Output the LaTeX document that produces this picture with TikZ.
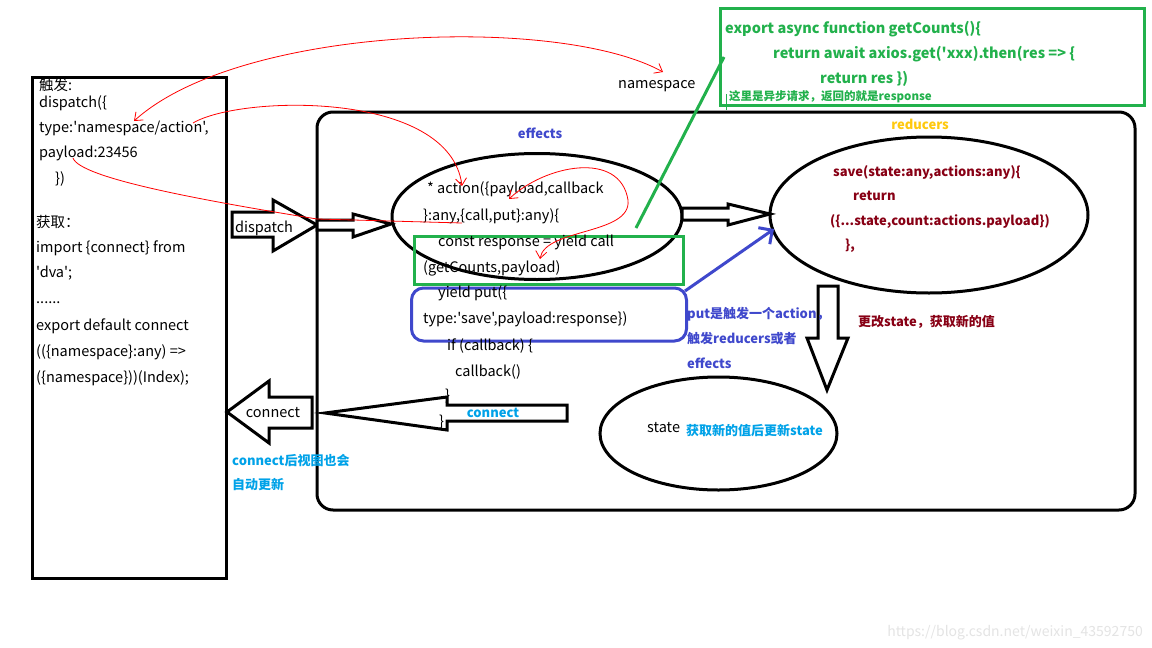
\documentclass[tikz,border=0pt]{standalone}
\usepackage{fontspec}
\setmainfont{Noto Sans CJK SC}[Ligatures=TeXOff]
\usetikzlibrary{arrows.meta,shapes.geometric}
\definecolor{pgreen}{HTML}{22B14C}
\definecolor{pblue}{HTML}{3F48CC}
\definecolor{plblue}{HTML}{00A2E8}
\definecolor{porange}{HTML}{FFC90E}
\definecolor{pdred}{HTML}{880015}
\definecolor{pred}{HTML}{FF0000}
\definecolor{wmark}{HTML}{E4E4E4}
\tikzset{
  txt/.style={anchor=base west, inner sep=0pt, font=\fontsize{14.5}{17}\selectfont},
  btxt/.style={anchor=base west, inner sep=0pt, font=\fontsize{13}{15}\selectfont\bfseries},
  frame/.style={draw=black, line width=3pt},
  blockarrow/.style={draw=black, fill=white, line width=3pt, line join=miter},
  redline/.style={draw=pred, line width=0.8pt},
  redtip/.style={-{Straight Barb[length=7pt,width=11pt,line width=0.8pt]}},
  redtips/.style={{Straight Barb[length=7pt,width=11pt,line width=0.8pt]}-{Straight Barb[length=7pt,width=11pt,line width=0.8pt]}},
}
\begin{document}
\begin{tikzpicture}[x=1pt,y=-1pt]
\useasboundingbox[fill=white] (0,0) rectangle (1152,648);

% left box
\node[frame, rectangle, minimum width=194pt, minimum height=501pt, anchor=north west, inner sep=0pt] (leftbox) at (31,75.5) {};
\node[txt] (l1) at (39,90) {触发:};
\node[txt] (l2) at (39,107) {dispatch(\{};
\node[txt] (l3) at (39,132) {type:'namespace/action',};
\node[txt] (l4) at (39,157) {payload:23456};
\node[txt] (l5) at (55,183) {\})};
\node[txt] (l6) at (36,227) {获取：};
\node[txt] (l7) at (36,252) {import \{connect\} from};
\node[txt] (l8) at (36,277) {'dva';};
\node[txt] (l9) at (36,303) {......};
\node[txt] (l10) at (36,330) {export default connect};
\node[txt] (l11) at (36,356) {((\{namespace\}:any) =>};
\node[txt] (l12) at (36,382) {(\{namespace\}))(Index);};

% big rounded frame
\draw[frame, rounded corners=16pt] (317,112) rectangle (1135,510);

% namespace label
\node[txt] (ns) at (618,88) {namespace};

% green box at top
\node[draw=pgreen, line width=3pt, rectangle, minimum width=424pt, minimum height=97pt, anchor=north west, inner sep=0pt] (gbox) at (719,6.5) {};
\node[btxt, text=pgreen, font=\fontsize{14.5}{17}\selectfont\bfseries] (g1) at (725,33) {export async function getCounts()\{};
\node[btxt, text=pgreen, font=\fontsize{14.5}{17}\selectfont\bfseries] (g2) at (773,58) {return await axios.get('xxx).then(res => \{};
\node[btxt, text=pgreen, font=\fontsize{14.5}{17}\selectfont\bfseries] (g3) at (820,83) {return res \})};
\node[btxt, text=pgreen, font=\fontsize{11.5}{13}\selectfont\bfseries] (g4) at (729,100) {这里是异步请求，返回的就是response};
\draw[pgreen, line width=1pt] (726,94) -- (726,110);

% effects ellipse
\node[draw=black, line width=3pt, ellipse, minimum width=290pt, minimum height=126pt, inner sep=0pt] (eff) at (537,216.5) {};
\node[btxt, anchor=base, text=pblue] (efflabel) at (540,138) {effects};

% green rect around call
\node[draw=pgreen, line width=3pt, rectangle, minimum width=269pt, minimum height=48pt, anchor=north west, inner sep=0pt] (grect) at (413,234.5) {};
% blue rounded rect around put
\node[draw=pblue, line width=3pt, rectangle, rounded corners=12pt, minimum width=275pt, minimum height=53pt, anchor=north west, inner sep=0pt] (brect) at (410,286.5) {};

% reducers ellipse
\node[draw=black, line width=3pt, ellipse, minimum width=318pt, minimum height=156pt, inner sep=0pt] (red) at (929,215) {};
\node[btxt, anchor=base, text=porange] (redlabel) at (920,129) {reducers};
\node[btxt, text=pdred] (r1) at (833,176) {save(state:any,actions:any)\{};
\node[btxt, text=pdred] (r2) at (853,200) {return};
\node[btxt, text=pdred] (r3) at (830,225) {(\{...state,count:actions.payload\})};
\node[btxt, text=pdred] (r4) at (845,249) {\},};

\node[btxt, text=pdred] (change) at (858,326) {更改state，获取新的值};

% state ellipse
\node[draw=black, line width=3pt, ellipse, minimum width=237pt, minimum height=113pt, inner sep=0pt] (state) at (718.5,433.5) {};
\node[txt] (s1) at (647,432) {state};
\node[btxt, text=plblue] (s2) at (686,435) {获取新的值后更新state};

% block arrows
\draw[blockarrow] (232,212) -- (273,212) -- (273,200) -- (317,225) -- (273,251) -- (273,237) -- (232,237) -- cycle;
\node[txt, anchor=base] (dlabel) at (264,232) {dispatch};
\draw[blockarrow] (317,220) -- (353,220) -- (353,214) -- (391,224) -- (353,237) -- (353,230) -- (317,230) -- cycle;
\draw[blockarrow] (682,208) -- (728,208) -- (728,204) -- (770,214) -- (728,225) -- (728,220) -- (682,220) -- cycle;
\draw[blockarrow] (818,286) -- (838,286) -- (838,338) -- (848,338) -- (827,390) -- (807,338) -- (818,338) -- cycle;
\draw[blockarrow] (567,405) -- (447,405) -- (447,397) -- (325,413) -- (447,430) -- (447,421) -- (567,421) -- cycle;
\node[btxt, anchor=base, text=plblue] (clabel) at (493,417) {connect};
\draw[blockarrow] (312,397) -- (269,397) -- (269,381) -- (227,412) -- (269,443) -- (269,428) -- (312,428) -- cycle;
\node[txt, anchor=base] (c2label) at (273,417) {connect};

% put explanation
\node[btxt, text=pblue] (p1) at (687,318) {put是触发一个action，};
\node[btxt, text=pblue] (p2) at (687,343) {触发reducers或者};
\node[btxt, text=pblue] (p3) at (687,368) {effects};

% effects code
\node[txt] (e1) at (427,193) {* action(\{payload,callback};
\node[txt] (e2) at (423,220) {\}:any,\{call,put\}:any)\{};
\node[txt] (e3) at (438,246) {const response = yield call};
\node[txt] (e4) at (423,272) {(getCounts,payload)};
\node[txt] (e5) at (438,297) {yield put(\{};
\node[txt] (e6) at (423,323) {type:'save',payload:response\})};
\node[txt] (e7) at (447,350) {if (callback) \{};
\node[txt] (e8) at (455,376) {callback()};
\node[txt] (e9) at (445,400) {\}};
\node[txt] (e10) at (439,426) {\}};

\node[btxt, text=plblue] (cv1) at (232,465) {connect后视图也会};
\node[btxt, text=plblue] (cv2) at (232,489) {自动更新};

% green connector
\coordinate (gl1) at (636,228);
\coordinate (gl2) at (724,57);
\draw[pgreen, line width=3pt] (gl1) -- (gl2);

% blue arrow
\coordinate (bl1) at (685,291);
\coordinate (bl2) at (774,229);
\draw[pblue, line width=3pt, -{Straight Barb[length=10pt,width=20pt,line width=3pt]}] (bl1) -- (bl2);

% red curves
\coordinate (ra1) at (134,121);
\coordinate (ra2) at (663,72);
\draw[redline, redtips] (ra1) .. controls (240,25) and (560,15) .. (ra2);
\coordinate (rb1) at (193,123);
\coordinate (rb2) at (462,186);
\draw[redline, redtip] (rb1) .. controls (240,95) and (450,90) .. (rb2);
\coordinate (rc1) at (73,158);
\coordinate (rc2) at (462,223);
\draw[redline] (rc1) .. controls (80,178) and (200,200) .. (317,219) -- (rc2);
\coordinate (rd1) at (509,199);
\coordinate (rd2) at (540,259);
\draw[redline, redtips] (rd1) .. controls (545,165) and (620,150) .. (628,200) .. controls (632,235) and (545,228) .. (rd2);

% watermark
\node[inner sep=0pt, anchor=base east, text=wmark, font=\fontsize{14}{16}\selectfont] (wm) at (1143,636) {https://blog.csdn.net/weixin\_43592750};
\end{tikzpicture}
\end{document}
